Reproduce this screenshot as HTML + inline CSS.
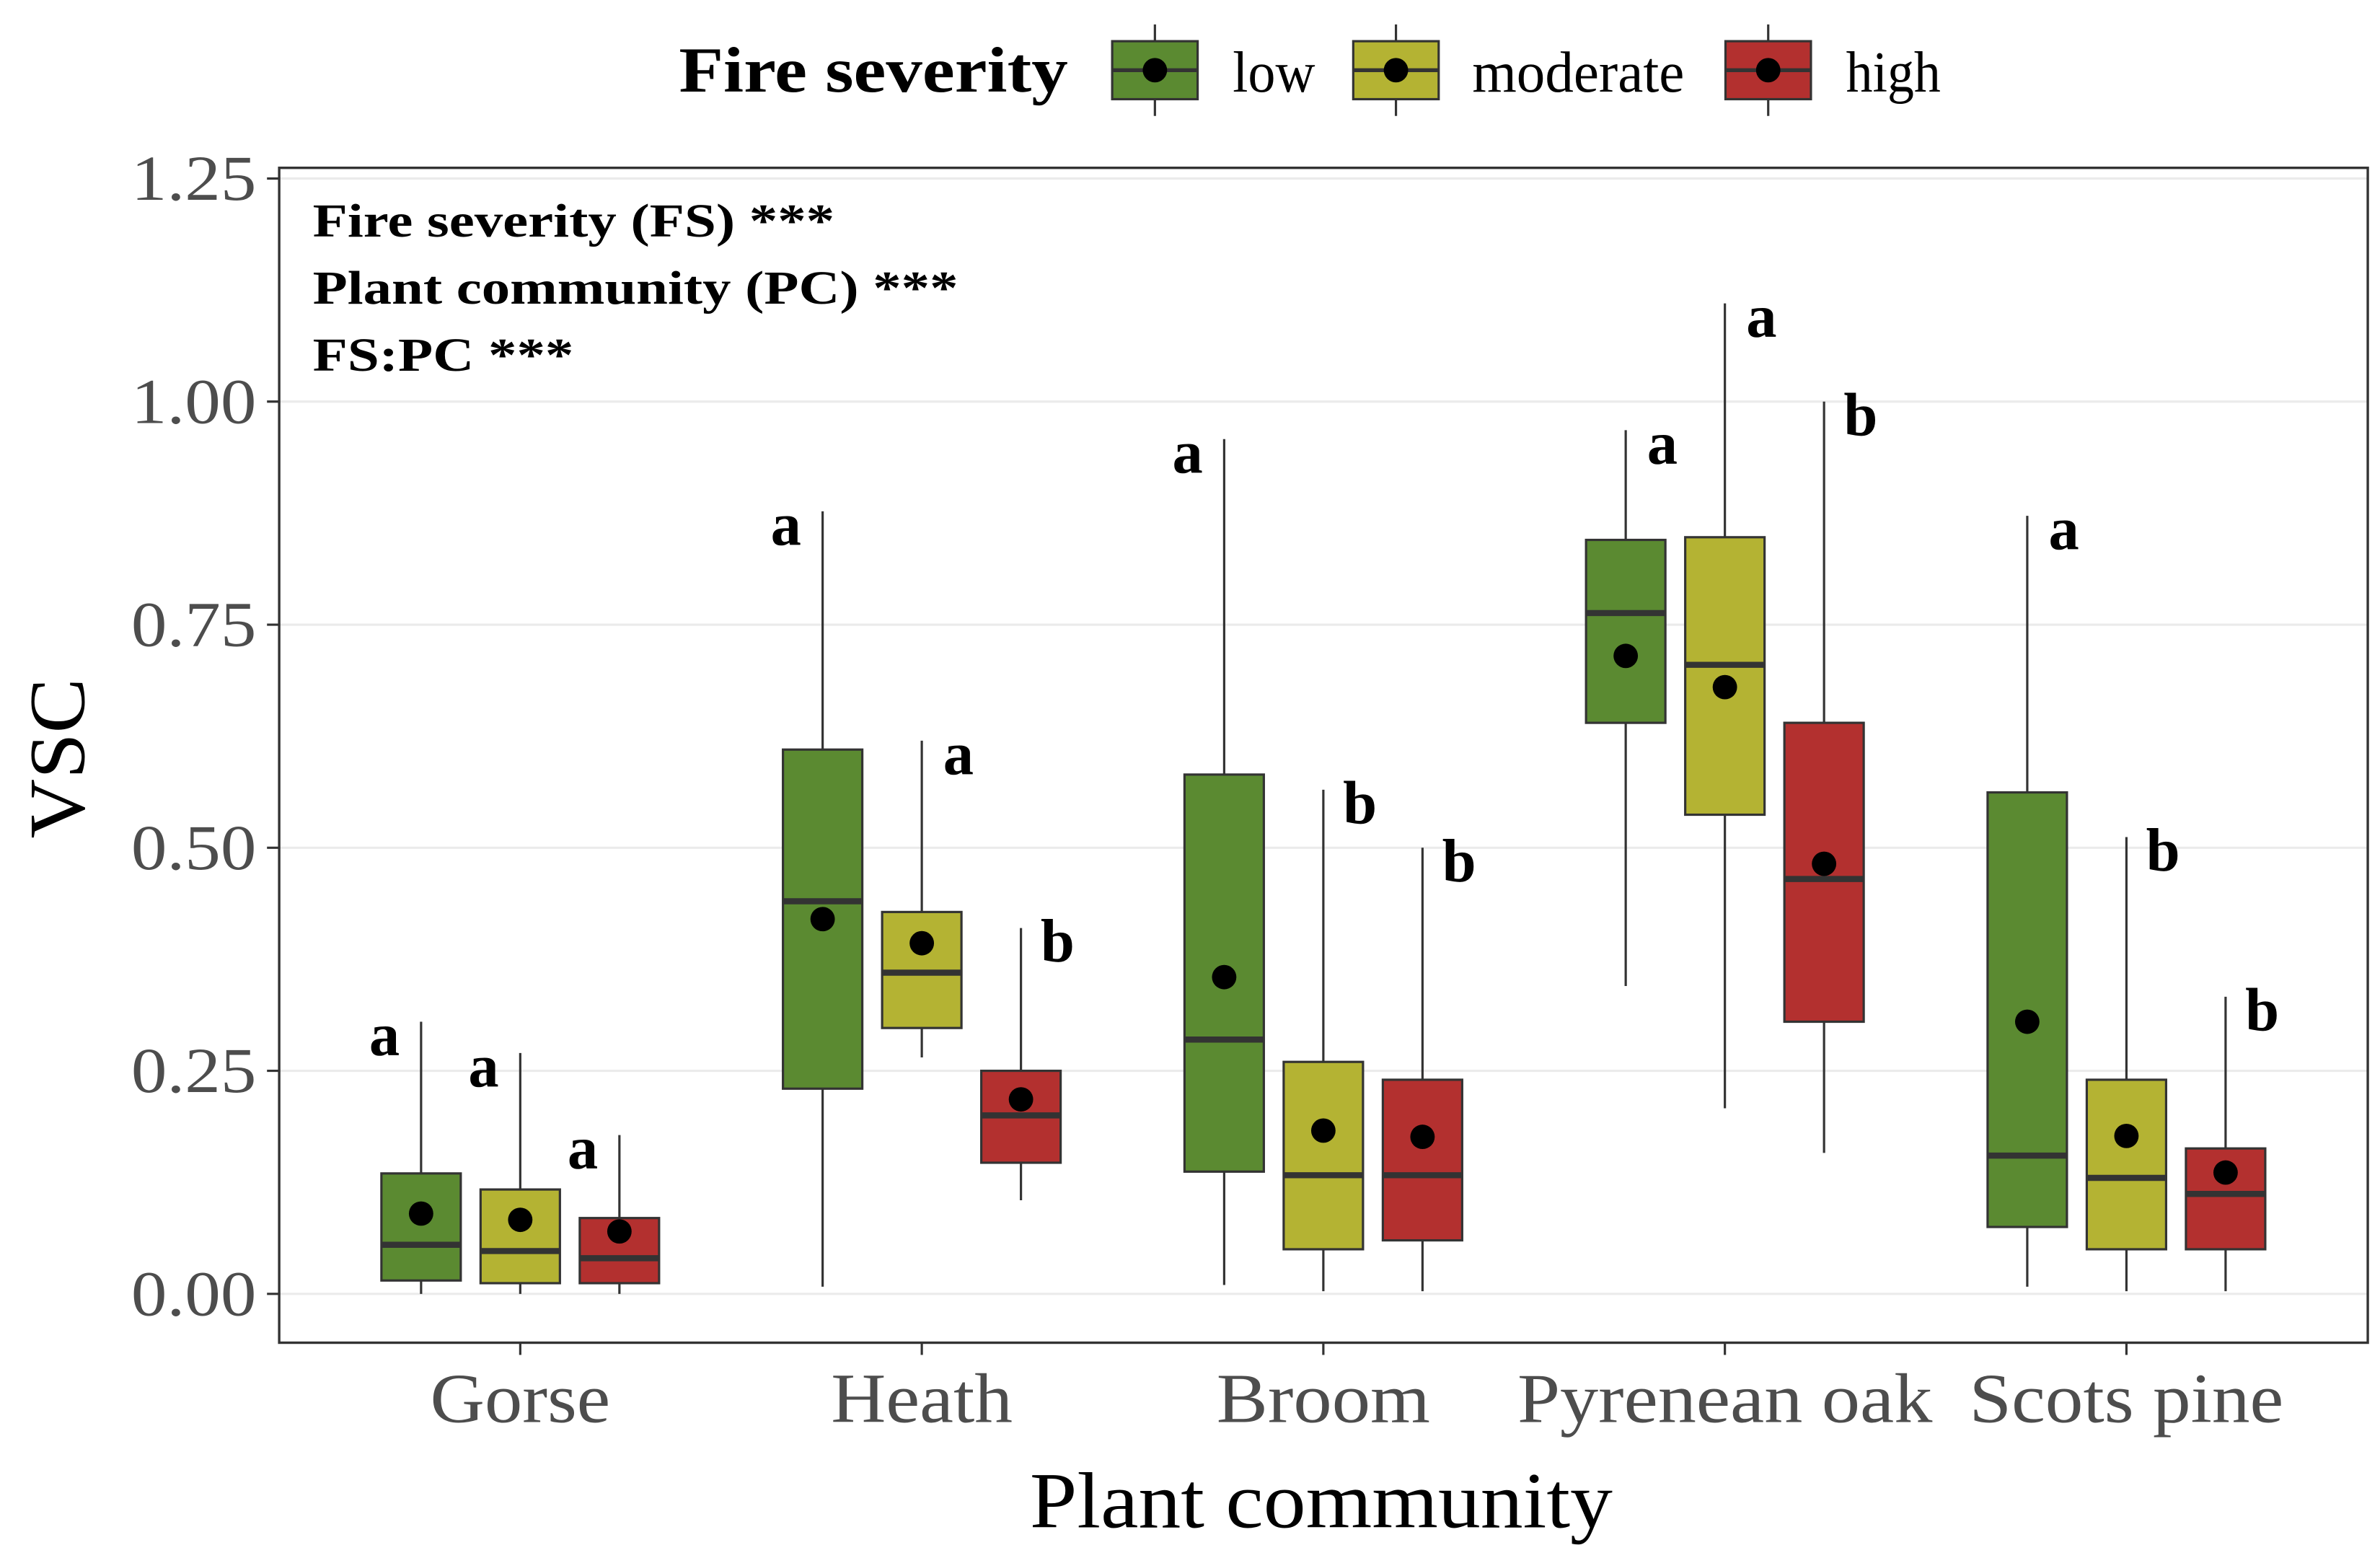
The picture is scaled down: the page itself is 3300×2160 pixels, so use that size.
<!DOCTYPE html>
<html><head><meta charset="utf-8"><style>
html,body{margin:0;padding:0;background:#fff;}
svg{display:block;font-family:"Liberation Serif",serif;}
</style></head><body>
<svg id="chart" width="3300" height="2160" viewBox="0 0 1560 1021.1" xmlns="http://www.w3.org/2000/svg">
<g id="legend">
  <text x="445" y="60" font-size="42" font-weight="bold" fill="#000" textLength="255" lengthAdjust="spacingAndGlyphs">Fire severity</text>
</g>
<rect x="183" y="110" width="1369" height="770" fill="#fff" stroke="none"/>
<g id="grid"></g>
<g id="marks"></g>
<rect x="183" y="110" width="1369" height="770" fill="none" stroke="#333" stroke-width="1.6"/>
<g id="axes"></g>
<g font-size="31" font-weight="bold" fill="#000">
  <text x="205" y="155" textLength="342" lengthAdjust="spacingAndGlyphs">Fire severity (FS) ***</text>
  <text x="205" y="199" textLength="423" lengthAdjust="spacingAndGlyphs">Plant community (PC) ***</text>
  <text x="205" y="243" textLength="171" lengthAdjust="spacingAndGlyphs">FS:PC ***</text>
</g>
<text x="866" y="1001" font-size="52" text-anchor="middle" fill="#000" textLength="382" lengthAdjust="spacingAndGlyphs">Plant community</text>
<text transform="translate(55,497) rotate(-90)" font-size="52" text-anchor="middle" fill="#000" textLength="105" lengthAdjust="spacingAndGlyphs">VSC</text>
</svg>
<script>
const categories = ["Gorse","Heath","Broom","Pyrenean oak","Scots pine"];
const severities = ["low","moderate","high"];
const yTicks = [0,0.25,0.5,0.75,1.0,1.25];
const yTickLabels = ["0.00","0.25","0.50","0.75","1.00","1.25"];
// per category: [low, moderate, high]
const whiskerLow = [[0.0,0.0,0.0],[0.008,0.265,0.105],[0.01,0.003,0.003],[0.345,0.208,0.158],[0.008,0.003,0.003]];
const q1 = [[0.015,0.012,0.012],[0.23,0.298,0.147],[0.137,0.05,0.06],[0.64,0.537,0.305],[0.075,0.05,0.05]];
const medians = [[0.055,0.048,0.04],[0.44,0.36,0.2],[0.285,0.133,0.133],[0.763,0.705,0.465],[0.155,0.13,0.112]];
const q3 = [[0.135,0.117,0.085],[0.61,0.428,0.25],[0.582,0.26,0.24],[0.845,0.848,0.64],[0.562,0.24,0.163]];
const whiskerHigh = [[0.305,0.27,0.178],[0.877,0.62,0.41],[0.958,0.565,0.5],[0.968,1.11,1.0],[0.872,0.512,0.333]];
const means = [[0.09,0.083,0.07],[0.42,0.393,0.218],[0.355,0.183,0.176],[0.715,0.68,0.482],[0.305,0.177,0.136]];
const letters = [["a","a","a"],["a","a","b"],["a","b","b"],["a","a","b"],["a","b","b"]];
const letterSide = [[-1,-1,-1],[-1,1,1],[-1,1,1],[1,1,1],[1,1,1]];

const colors = ["#5b8a31","#b4b333","#b3302f"];
const catLabelWidths = [118,119,140,272,206];
const NS = "http://www.w3.org/2000/svg";
const y = v => 848 - v*584.8;
const xCat = i => 341 + i*263.2;
const dodge = j => (j-1)*65;
const bw = 52;
function mk(tag, attrs, parent){const e=document.createElementNS(NS,tag);for(const k in attrs)e.setAttribute(k,attrs[k]);parent.appendChild(e);return e;}

const grid = document.getElementById('grid');
const axes = document.getElementById('axes');
const marks = document.getElementById('marks');
yTicks.forEach((t,i)=>{
  const g = mk('line',{x1:183,x2:1552,y1:y(t),y2:y(t),stroke:'#ebebeb','stroke-width':1.5},grid);
  
  
  const tk = mk('line',{x1:175,x2:183,y1:y(t),y2:y(t),stroke:'#333','stroke-width':1.5},axes);
  
  
  const tl = mk('text',{x:168,y:y(t)+14,'font-size':42,'text-anchor':'end',fill:'#4d4d4d',textLength:82,lengthAdjust:'spacingAndGlyphs'},axes);
  tl.textContent = yTickLabels[i];
  
  
});
categories.forEach((c,i)=>{
  const tk = mk('line',{x1:xCat(i),x2:xCat(i),y1:880,y2:888,stroke:'#333','stroke-width':1.5},axes);
  
  
  const tl = mk('text',{x:xCat(i),y:932,'font-size':46,'text-anchor':'middle',fill:'#4d4d4d',textLength:catLabelWidths[i],lengthAdjust:'spacingAndGlyphs'},axes);
  tl.textContent = c;
  
  
  severities.forEach((s,j)=>{
    const cx = xCat(i)+dodge(j);
    const g = mk('g',{},marks);
    
    
    mk('line',{x1:cx,x2:cx,y1:y(whiskerLow[i][j]),y2:y(whiskerHigh[i][j]),stroke:'#333','stroke-width':1.5},g);
    mk('rect',{x:cx-bw/2,y:y(q3[i][j]),width:bw,height:y(q1[i][j])-y(q3[i][j]),fill:colors[j],stroke:'#333','stroke-width':1.5},g);
    mk('line',{x1:cx-bw/2,x2:cx+bw/2,y1:y(medians[i][j]),y2:y(medians[i][j]),stroke:'#333','stroke-width':4},g);
    mk('circle',{cx:cx,cy:y(means[i][j]),r:8,fill:'#000'},g);
    const lt = mk('text',{x:cx+letterSide[i][j]*24,y:y(whiskerHigh[i][j])+22,'font-size':40,'font-weight':'bold','text-anchor':'middle',fill:'#000'},marks);
    lt.textContent = letters[i][j];
    
    
  });
});
const legend = document.getElementById('legend');
const keyX = [729,887,1131];
const labX = [808,965,1210];
const labW = [54,139,62];
severities.forEach((s,j)=>{
  const g = mk('g',{},legend);
  
  
  const cx = keyX[j]+28;
  mk('line',{x1:cx,x2:cx,y1:16,y2:76,stroke:'#333','stroke-width':1.5},g);
  mk('rect',{x:keyX[j],y:27,width:56,height:38,fill:colors[j],stroke:'#333','stroke-width':1.5},g);
  mk('line',{x1:keyX[j],x2:keyX[j]+56,y1:46,y2:46,stroke:'#333','stroke-width':2.5},g);
  mk('circle',{cx:cx,cy:46,r:8,fill:'#000'},g);
  const t = mk('text',{x:labX[j],y:60,'font-size':38,fill:'#000',textLength:labW[j],lengthAdjust:'spacingAndGlyphs'},g);
  t.textContent = s;
});
</script>
</body></html>
